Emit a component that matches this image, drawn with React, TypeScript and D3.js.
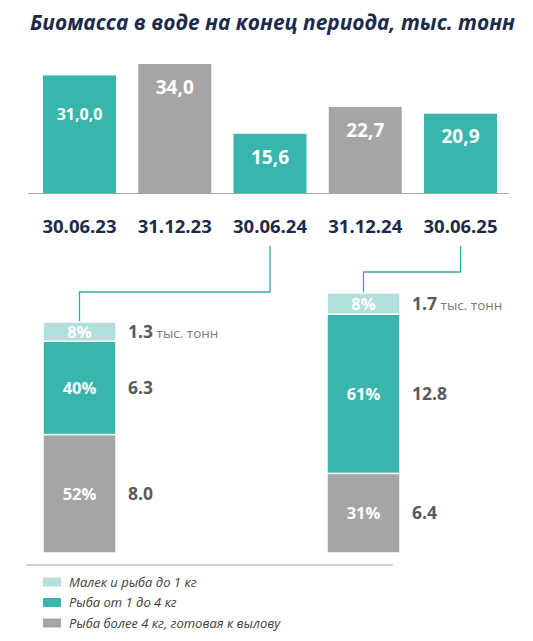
import React from "react";
import * as d3 from "d3";

const periods = ["30.06.23", "31.12.23", "30.06.24", "31.12.24", "30.06.25"];
const biomass = [31.0, 34.0, 15.6, 22.7, 20.9];
const biomassLabels = ["31,0,0", "34,0", "15,6", "22,7", "20,9"];
const barKinds = ["teal", "gray", "teal", "gray", "teal"];

const detailPeriods = ["30.06.24", "30.06.25"];
const fry = [1.3, 1.7];
const mid = [6.3, 12.8];
const large = [8.0, 6.4];
const fryPct = ["8%", "8%"];
const midPct = ["40%", "61%"];
const largePct = ["52%", "31%"];

const legendLabels = [
  "Малек и рыба до 1 кг",
  "Рыба от 1 до 4 кг",
  "Рыба более 4 кг, готовая к вылову",
];

const TEAL = "#38b6ad";
const GRAY = "#a5a5a5";
const LIGHT = "#b1dfdc";
const NAVY = "#1c2a4c";
const LINE = "#3aa8a6";
const FONT = "'Open Sans', 'Noto Sans', sans-serif";

export default function App() {
  const W = 533;
  const H = 641;

  // top chart
  const x = d3.scaleBand<string>().domain(periods).range([43, 497]).paddingInner(0.2336).paddingOuter(0);
  const baseY = 193;
  const y = d3.scaleLinear().domain([0, 34]).range([baseY, 64]);
  const labelOffsets = [39, 23, 24, 23, 23];

  // detail stacks
  const stackX = d3.scaleOrdinal<string, number>().domain(detailPeriods).range([43, 327]);
  const stackW = 73;
  const stackBottom = 553;
  const stackTops = [322, 293];
  const stackData = detailPeriods.map((p, i) => {
    const total = fry[i] + mid[i] + large[i];
    const ys = d3.scaleLinear().domain([0, total]).range([stackBottom, stackTops[i]]);
    const segs = [
      { v0: 0, v1: large[i], color: GRAY, pct: largePct[i], val: large[i].toFixed(1), unit: false },
      { v0: large[i], v1: large[i] + mid[i], color: TEAL, pct: midPct[i], val: mid[i].toFixed(1), unit: false },
      { v0: large[i] + mid[i], v1: total, color: LIGHT, pct: fryPct[i], val: fry[i].toFixed(1), unit: true },
    ];
    return { p, i, ys, segs };
  });

  const connectorTurnY = [292, 272];

  return (
    <svg width={W} height={H} style={{ position: "absolute", left: 0, top: 0 }} fontFamily={FONT}>
      <rect width={W} height={H} fill="#fff" />
      <text x={30} y={30} fill={NAVY} fontSize={21} fontWeight={700} fontStyle="italic" textLength={485} lengthAdjust="spacingAndGlyphs">
        Биомасса в воде на конец периода, тыс. тонн
      </text>

      {periods.map((p, i) => {
        const top = y(biomass[i]);
        const bx = x(p)!;
        return (
          <g key={p}>
            <rect x={bx} y={top} width={x.bandwidth()} height={baseY - top} fill={barKinds[i] === "teal" ? TEAL : GRAY} />
            <text
              x={bx + x.bandwidth() / 2}
              y={top + labelOffsets[i]}
              dy="0.35em"
              textAnchor="middle"
              fill="#fff"
              fontWeight={700}
              fontSize={i === 0 ? 16 : 19}
            >
              {biomassLabels[i]}
            </text>
            <text x={bx + x.bandwidth() / 2} y={227} dy="0.35em" textAnchor="middle" fill={NAVY} fontWeight={700} fontSize={18.5}>
              {p}
            </text>
          </g>
        );
      })}
      <line x1={28} x2={509} y1={baseY + 0.5} y2={baseY + 0.5} stroke="#a6a6a6" strokeWidth={1.2} />

      {stackData.map(({ p, i, ys, segs }) => {
        const sx = stackX(p);
        const srcX = x(p)! + x.bandwidth() / 2;
        const dstX = sx + stackW / 2;
        const path = d3.path();
        path.moveTo(srcX, 246);
        path.lineTo(srcX, connectorTurnY[i]);
        path.lineTo(dstX, connectorTurnY[i]);
        path.lineTo(dstX, stackTops[i]);
        return (
          <g key={p}>
            <path d={path.toString()} fill="none" stroke={LINE} strokeWidth={1.3} />
            {segs.map((s, k) => {
              const yTop = ys(s.v1);
              const yBot = ys(s.v0);
              const cy = (yTop + yBot) / 2;
              return (
                <g key={k}>
                  <rect x={sx} y={yTop} width={stackW} height={yBot - yTop} fill={s.color} stroke="#fff" strokeWidth={1.5} />
                  <text x={sx + stackW / 2} y={cy} dy="0.36em" textAnchor="middle" fill="#fff" fontWeight={700} fontSize={16.5}>
                    {s.pct}
                  </text>
                  <text x={sx + 85} y={cy} dy="0.36em" fill="#595959" fontSize={17.5} fontWeight={700}>
                    {s.val}
                    {s.unit ? (
                      <tspan fontWeight={400} fontSize={13.5} fill="#7a7a7a">
                        {" "}тыс. тонн
                      </tspan>
                    ) : null}
                  </text>
                </g>
              );
            })}
          </g>
        );
      })}

      <line x1={26} x2={393} y1={565} y2={565} stroke="#a6a6a6" strokeWidth={1.2} />
      {legendLabels.map((l, k) => {
        const cy = 582 + k * 20.5;
        return (
          <g key={l}>
            <rect x={43} y={cy - 4.5} width={18} height={9} fill={[LIGHT, TEAL, GRAY][k]} />
            <text x={69} y={cy} dy="0.35em" fill="#404040" fontStyle="italic" fontSize={13}>
              {l}
            </text>
          </g>
        );
      })}
    </svg>
  );
}
